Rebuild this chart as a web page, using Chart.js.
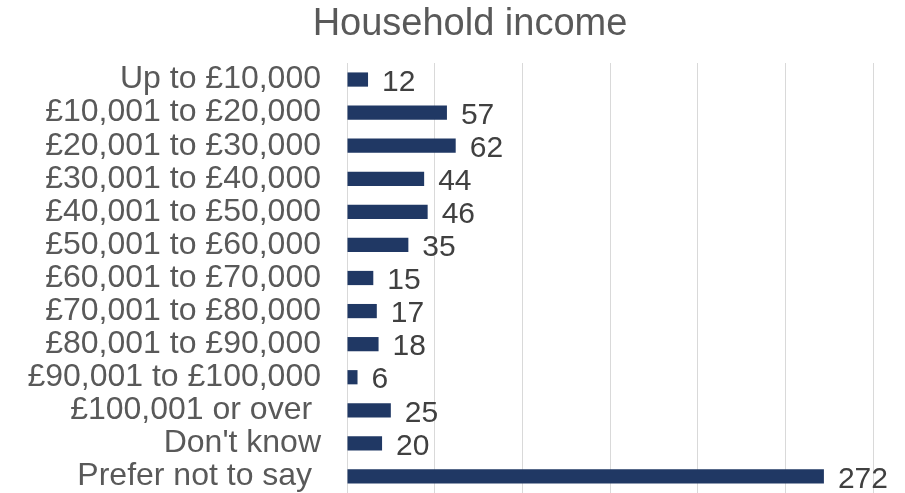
<!DOCTYPE html>
<html>
<head>
<meta charset="utf-8">
<title>Household income</title>
<script src="https://cdn.jsdelivr.net/npm/chart.js@4"></script>
<style>
  html, body { margin: 0; padding: 0; background: #fff; }
  #wrap { width: 905px; height: 493px; position: relative; }
</style>
</head>
<body>
<div id="wrap"><canvas id="incomeChart"></canvas></div>
<script>
var categories = [
  "Up to £10,000",
  "£10,001 to £20,000",
  "£20,001 to £30,000",
  "£30,001 to £40,000",
  "£40,001 to £50,000",
  "£50,001 to £60,000",
  "£60,001 to £70,000",
  "£70,001 to £80,000",
  "£80,001 to £90,000",
  "£90,001 to £100,000",
  "£100,001 or over ",
  "Don't know",
  "Prefer not to say "
];
var responses = [12, 57, 62, 44, 46, 35, 15, 17, 18, 6, 25, 20, 272];
var chartTitle = "Household income";

var FONT = 'Arial, "Liberation Sans", sans-serif';

// title drawn by hand so it can sit a little right of the canvas centre
const titlePlugin = {
  id: "titleText",
  afterDraw(chart) {
    const ctx = chart.ctx;
    ctx.save();
    ctx.font = "38px " + FONT;
    ctx.fillStyle = "#595959";
    ctx.textAlign = "center";
    ctx.textBaseline = "middle";
    ctx.fillText(chartTitle, 470, 25);
    ctx.restore();
  }
};

// value labels at the end of each bar
const valueLabels = {
  id: "valueLabels",
  afterDatasetsDraw(chart) {
    const ctx = chart.ctx;
    const meta = chart.getDatasetMeta(0);
    ctx.save();
    ctx.font = "30px " + FONT;
    ctx.fillStyle = "#404040";
    ctx.textAlign = "left";
    ctx.textBaseline = "middle";
    meta.data.forEach(function (bar, i) {
      ctx.fillText(String(responses[i]), bar.x + 14, bar.y + 3);
    });
    ctx.restore();
  }
};

new Chart("incomeChart", {
  type: "bar",
  data: {
    labels: categories,
    datasets: [{
      data: responses,
      backgroundColor: "#203864",
      borderWidth: 0,
      categoryPercentage: 1,
      barPercentage: 0.43
    }]
  },
  options: {
    indexAxis: "y",
    responsive: true,
    maintainAspectRatio: false,
    animation: false,
    layout: { padding: { top: 63, right: 32, bottom: 0, left: 0 } },
    plugins: {
      legend: { display: false },
      title: { display: false },
      tooltip: { enabled: false }
    },
    scales: {
      x: {
        min: 0,
        max: 300,
        ticks: { display: false, stepSize: 50 },
        grid: { color: "#d9d9d9", lineWidth: 1, drawTicks: false },
        border: { display: false },
        afterFit: function (scale) { scale.height = 0; }
      },
      y: {
        afterFit: function (scale) {
          scale.width = 347;
          scale.paddingTop = 0;
          scale.paddingBottom = 0;
        },
        ticks: {
          autoSkip: false,
          color: "#595959",
          padding: 26,
          font: { family: FONT, size: 32 }
        },
        grid: { display: false, drawTicks: false },
        border: { display: false }
      }
    }
  },
  plugins: [titlePlugin, valueLabels]
});
</script>
</body>
</html>
